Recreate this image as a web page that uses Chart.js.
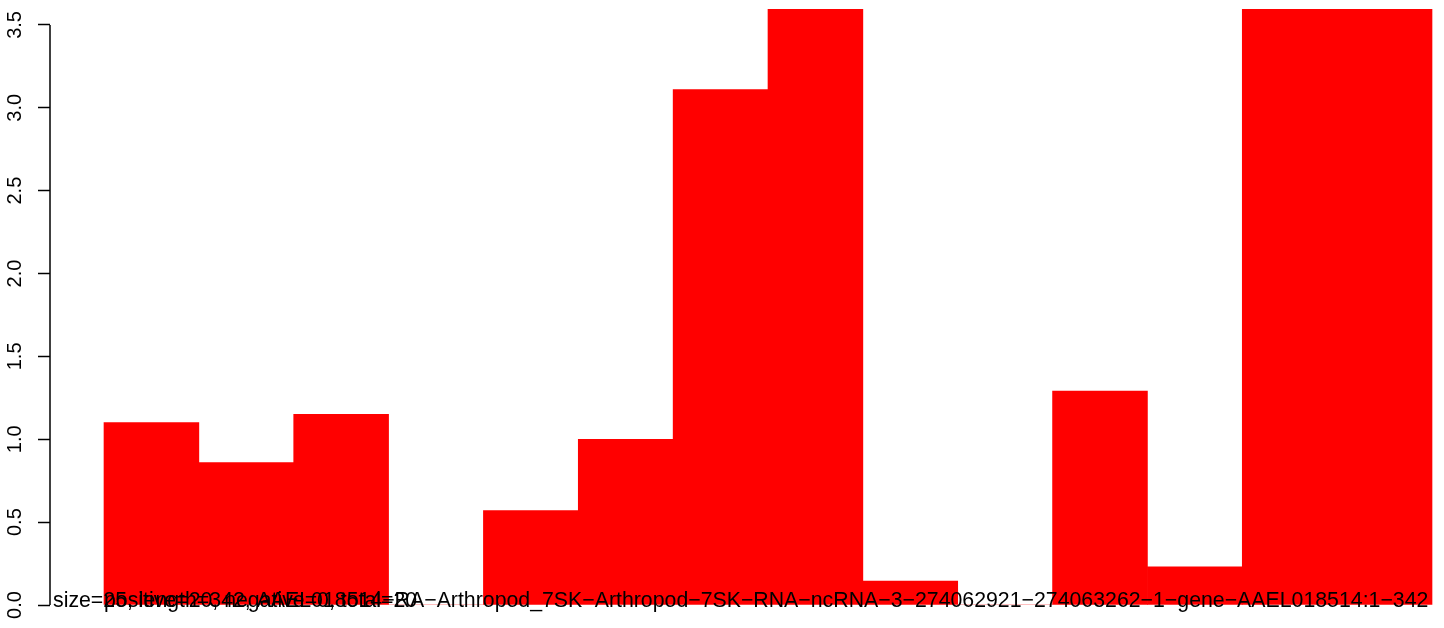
<!DOCTYPE html>
<html>
<head>
<meta charset="utf-8">
<script src="https://cdn.jsdelivr.net/npm/chart.js@4/dist/chart.umd.min.js"></script>
<style>
  html, body { margin: 0; padding: 0; background: #fff; overflow: hidden; }
  #wrap { width: 1444px; height: 628px; }
</style>
</head>
<body>
<div id="wrap"><canvas id="chart" width="1444" height="628"></canvas></div>
<script>
// bar positions (1..14) and heights
const barIndex = [1, 2, 3, 4, 5, 6, 7, 8, 9, 10, 11, 12, 13, 14];
const barValues = [1.10, 0.86, 1.15, 0, 0.57, 1.00, 3.11, 4.0, 0.145, 0, 1.29, 0.23, 4.0, 4.0];
const yTickValues = [0, 0.5, 1, 1.5, 2, 2.5, 3, 3.5];
const labelLong =
  "size=25, length=342, AAEL018514\u2212RA\u2212Arthropod_7SK\u2212Arthropod\u22127SK\u2212RNA\u2212ncRNA\u22123\u2212274062921\u2212274063262\u22121\u2212gene\u2212AAEL018514:1\u2212342";
const labelCounts = "positive=20, negative=0, total=20";

const FONT = '"Liberation Sans", Arial, Helvetica, sans-serif';

// axis line only over the tick range, like R's axis()
const axisLine = {
  id: "axisLine",
  afterDraw(chart) {
    const { ctx, chartArea } = chart;
    const y = chart.scales.y;
    const top = y.getPixelForValue(yTickValues[yTickValues.length - 1]);
    const bottom = y.getPixelForValue(yTickValues[0]);
    ctx.save();
    ctx.strokeStyle = "#000";
    ctx.lineWidth = 1.5;
    ctx.beginPath();
    ctx.moveTo(chartArea.left, top);
    ctx.lineTo(chartArea.left, bottom);
    ctx.stroke();
    ctx.restore();
  },
};

// the two overlapping strings along the base
const baseText = {
  id: "baseText",
  afterDatasetsDraw(chart) {
    const { ctx, chartArea } = chart;
    const x = chart.scales.x;
    const y = chart.scales.y;
    const base = y.getPixelForValue(0) + 2;
    ctx.save();
    ctx.fillStyle = "#000";
    ctx.font = "21.3px " + FONT;
    ctx.textBaseline = "alphabetic";
    ctx.textAlign = "left";
    ctx.fillText(labelLong, chartArea.left + 3, base);
    ctx.fillText(labelCounts, x.getPixelForValue(barIndex[0] - 0.5), base);
    ctx.restore();
  },
};

// left edge of the first bar sits 54px right of the axis, last bar ends 12px before the edge
const PLOT_W = 1444 - 50;
const UNIT = (1432 - 104) / barIndex.length;
const xMin = 0.5 - 54 / UNIT;
const xMax = barIndex.length + 0.5 + (PLOT_W - 54 - UNIT * barIndex.length) / UNIT;

new Chart(document.getElementById("chart"), {
  type: "bar",
  data: {
    datasets: [
      {
        data: barIndex.map((b, i) => ({ x: b, y: barValues[i] })),
        backgroundColor: "#ff0000",
        borderWidth: 0,
        barPercentage: 1,
        categoryPercentage: 1,
      },
    ],
  },
  plugins: [axisLine, baseText],
  options: {
    responsive: false,
    animation: false,
    devicePixelRatio: 1,
    layout: { padding: { top: 9, bottom: 23, left: 0, right: 0 } },
    plugins: { legend: { display: false }, tooltip: { enabled: false } },
    scales: {
      x: {
        type: "linear",
        display: false,
        offset: false,
        min: xMin,
        max: xMax,
        afterBuildTicks: (scale) => {
          scale.ticks = barIndex.map((v) => ({ value: v }));
        },
      },
      y: {
        min: 0,
        max: 3.596,
        afterBuildTicks: (scale) => {
          scale.ticks = yTickValues.map((v) => ({ value: v }));
        },
        afterFit: (scale) => {
          scale.width = 50;
          scale.paddingTop = 0;
          scale.paddingBottom = 0;
        },
        border: { display: false },
        grid: {
          drawOnChartArea: false,
          drawTicks: true,
          tickLength: 12,
          color: "#000",
          tickWidth: 1.5,
        },
        ticks: {
          minRotation: 90,
          maxRotation: 90,
          crossAlign: "center",
          padding: 9,
          color: "#000",
          font: { family: FONT, size: 20 },
          callback: (v) => Number(v).toFixed(1),
        },
      },
    },
  },
});
</script>
</body>
</html>
